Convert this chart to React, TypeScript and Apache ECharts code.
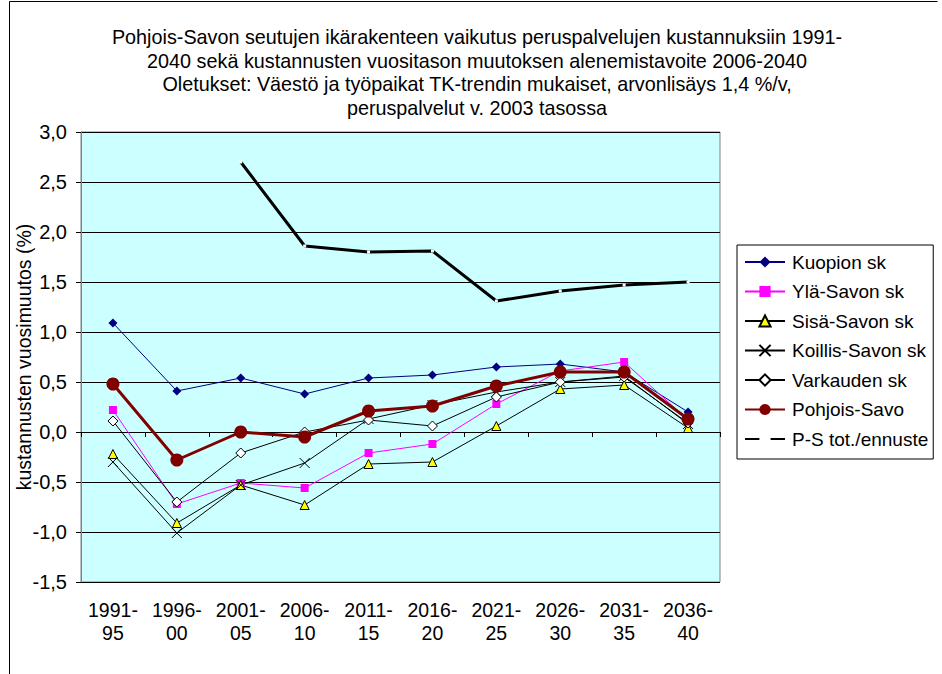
import React, { useEffect, useRef } from "react";
import * as echarts from "echarts";

const categories = ["1991-95", "1996-00", "2001-05", "2006-10", "2011-15", "2016-20", "2021-25", "2026-30", "2031-35", "2036-40"];
const kuopio = [1.09, 0.41, 0.54, 0.38, 0.54, 0.57, 0.65, 0.68, 0.6, 0.2];
const ylaSavo = [0.22, -0.72, -0.51, -0.56, -0.21, -0.12, 0.28, 0.61, 0.7, 0.12];
const sisaSavo = [-0.22, -0.91, -0.53, -0.73, -0.32, -0.3, 0.06, 0.43, 0.47, 0.04];
const koillisSavo = [-0.3, -1.01, -0.53, -0.31, 0.13, 0.27, 0.4, 0.5, 0.56, 0.08];
const varkaus = [0.11, -0.7, -0.21, 0.0, 0.12, 0.06, 0.35, 0.5, 0.55, 0.09];
const pohjoisSavo = [0.48, -0.28, 0.0, -0.05, 0.21, 0.26, 0.46, 0.6, 0.6, 0.13];
const psTotal = [null, null, 2.7, 1.86, 1.8, 1.81, 1.31, 1.41, 1.47, 1.5];

const titleText =
  "Pohjois-Savon seutujen ikärakenteen vaikutus peruspalvelujen kustannuksiin 1991-\n2040 sekä kustannusten vuositason muutoksen alenemistavoite 2006-2040\nOletukset: Väestö ja työpaikat TK-trendin mukaiset, arvonlisäys 1,4 %/v,\nperuspalvelut v. 2003 tasossa";
const yAxisName = "kustannusten vuosimuutos (%)";

const FONT = "'Liberation Sans', Arial, sans-serif";

export default function App() {
  const ref = useRef<HTMLDivElement>(null);
  useEffect(() => {
    if (!ref.current) return;
    const chart = echarts.init(ref.current, null, { renderer: "svg" });
    const blackLine = (name: string, data: any[], symbol: string, size: number, fill: string) => ({
      name,
      type: "line",
      data,
      symbol,
      symbolSize: size,
      showAllSymbol: true,
      lineStyle: { color: "#000", width: 1 },
      itemStyle: { color: fill, borderColor: "#000", borderWidth: 1 },
      emphasis: { disabled: true },
    });
    chart.setOption({
      animation: false,
      textStyle: { fontFamily: FONT },
      title: {
        text: titleText,
        left: 477,
        top: 25,
        padding: 0,
        textAlign: "center",
        textStyle: { fontSize: 19.8, fontWeight: "normal", color: "#000", lineHeight: 23.7, fontFamily: FONT },
      },
      graphic: [
        { type: "line", shape: { x1: 9.5, y1: 1.5, x2: 9.5, y2: 674 }, style: { stroke: "#000", lineWidth: 1 } },
        { type: "line", shape: { x1: 9.5, y1: 1.5, x2: 937.5, y2: 1.5 }, style: { stroke: "#000", lineWidth: 1 } },
      ],
      legend: {
        orient: "vertical",
        left: 737,
        top: 245,
        itemWidth: 40,
        itemHeight: 14,
        itemGap: 10.5,
        padding: [7.5, 5, 10.5, 7],
        borderColor: "#000",
        borderWidth: 1,
        backgroundColor: "#fff",
        textStyle: { fontSize: 19, lineHeight: 19, color: "#000", fontFamily: FONT, padding: [0, 0, 0, 2] },
        data: ["Kuopion sk", "Ylä-Savon sk", "Sisä-Savon sk", "Koillis-Savon sk", "Varkauden sk", "Pohjois-Savo", "P-S tot./ennuste"],
      },
      grid: {
        left: 81,
        top: 132,
        width: 639,
        height: 450,
        show: true,
        containLabel: false,
        outerBoundsMode: "none",
        backgroundColor: "#CCFFFF",
        borderColor: "#808080",
        borderWidth: 1,
      },
      xAxis: [
        {
          type: "category",
          data: categories,
          boundaryGap: true,
          axisLine: { onZero: true, lineStyle: { color: "#000", width: 1 } },
          axisTick: { show: true, length: 5, interval: 0, lineStyle: { color: "#000" } },
          axisLabel: { show: false },
          splitLine: { show: false },
        },
        {
          type: "category",
          data: categories,
          position: "bottom",
          boundaryGap: true,
          axisLine: { show: false, onZero: false },
          axisTick: { show: false },
          axisLabel: {
            show: true,
            interval: 0,
            margin: 16,
            fontSize: 19.5,
            color: "#000",
            lineHeight: 23,
            fontFamily: FONT,
            formatter: (v: string) => v.replace("-", "-\n"),
          },
        },
      ],
      yAxis: {
        type: "value",
        min: -1.5,
        max: 3,
        interval: 0.5,
        name: yAxisName,
        nameLocation: "middle",
        nameGap: 47,
        nameRotate: 90,
        nameMoveOverlap: false,
        nameTextStyle: { fontSize: 19.5, color: "#000", fontFamily: FONT },
        axisLine: { show: true, lineStyle: { color: "#808080", width: 1 } },
        axisTick: { show: true, length: 5, lineStyle: { color: "#000" } },
        axisLabel: {
          fontSize: 20,
          color: "#000",
          margin: 14,
          fontFamily: FONT,
          formatter: (v: number) => v.toFixed(1).replace(".", ","),
        },
        splitLine: { show: true, lineStyle: { color: "#000", width: 1 } },
      },
      series: [
        {
          name: "Kuopion sk",
          type: "line",
          data: kuopio,
          symbol: "diamond",
          symbolSize: 9,
          lineStyle: { color: "#000080", width: 1 },
          itemStyle: { color: "#000080" },
          emphasis: { disabled: true },
        },
        {
          name: "Ylä-Savon sk",
          type: "line",
          data: ylaSavo,
          symbol: "rect",
          symbolSize: 8,
          lineStyle: { color: "#FF00FF", width: 1 },
          itemStyle: { color: "#FF00FF" },
          emphasis: { disabled: true },
        },
        blackLine("Sisä-Savon sk", sisaSavo, "triangle", 9, "#FFFF00"),
        blackLine("Koillis-Savon sk", koillisSavo, "path://M0,0L10,10M0,10L10,0", 10, "#000"),
        blackLine("Varkauden sk", varkaus, "diamond", 10, "#fff"),
        {
          name: "Pohjois-Savo",
          type: "line",
          data: pohjoisSavo,
          symbol: "circle",
          symbolSize: 13,
          lineStyle: { color: "#800000", width: 3 },
          itemStyle: { color: "#800000" },
          emphasis: { disabled: true },
        },
        {
          name: "P-S tot./ennuste",
          type: "line",
          data: psTotal,
          symbol: "rect",
          symbolSize: 3,
          lineStyle: { color: "#000", width: 3 },
          itemStyle: { color: "#fff" },
          emphasis: { disabled: true },
        },
      ],
    });
    return () => chart.dispose();
  }, []);
  return <div ref={ref} style={{ position: "absolute", left: 0, top: 0, width: 942, height: 674 }} />;
}
